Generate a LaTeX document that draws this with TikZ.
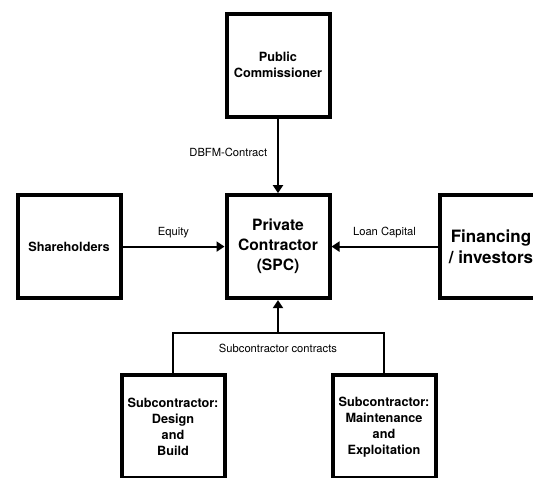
\documentclass[tikz,border=0pt]{standalone}
\usepackage{fontspec}
\setmainfont{TeX Gyre Heros}
\usetikzlibrary{arrows.meta}
\usetikzlibrary{positioning}
\tikzstyle{partybox} = [draw, rectangle, line width=4pt, minimum width=103pt, minimum height=103pt, align=center, font=\bfseries\fontsize{12.7}{16}\selectfont]
\tikzstyle{bigtext} = [font=\bfseries\fontsize{15.6}{20}\selectfont]
\tikzstyle{flowlabel} = [font=\fontsize{11.2}{13}\selectfont]
\tikzstyle{flow} = [line width=2pt, ->]

\begin{document}
\begin{tikzpicture}[>={Triangle[length=8pt,width=10pt]}]
  \clip (0pt,0pt) rectangle (533pt,-478pt);

  \node[partybox, bigtext] (spc) at (278pt,-246.6pt) {Private\\Contractor\\(SPC)};
  \node[partybox, above=74.3pt of spc] (pub) {Public\\Commissioner};
  \node[partybox, left=102pt of spc] (sh) {Shareholders};
  \node[partybox, right=103pt of spc, font=\bfseries\fontsize{17}{21}\selectfont, xshift=3pt] (fin) {Financing\\/ investors};
  \node[partybox, below=73.3pt of spc, xshift=-105pt] (db) {Subcontractor:\\Design\\and\\Build};
  \node[partybox, below=73.3pt of spc, xshift=106pt] (me) {Subcontractor:\\Maintenance\\and\\Exploitation};
  \coordinate[below=32.6pt of spc.south] (join);

  \draw[flow] (pub) -- node[flowlabel, left=6.5pt, pos=0.45] {DBFM-Contract} (spc);
  \draw[flow] (sh) -- node[flowlabel, above=4pt] {Equity} (spc);
  \draw[flow] (fin) -- node[flowlabel, above=4pt] {Loan Capital} (spc);
  \draw[line width=2pt] (db.north) |- (join) -| (me.north);
  \draw[flow] (join) -- (spc);
  \node[flowlabel, below=8pt of join] (subc) {Subcontractor contracts};
\end{tikzpicture}
\end{document}
